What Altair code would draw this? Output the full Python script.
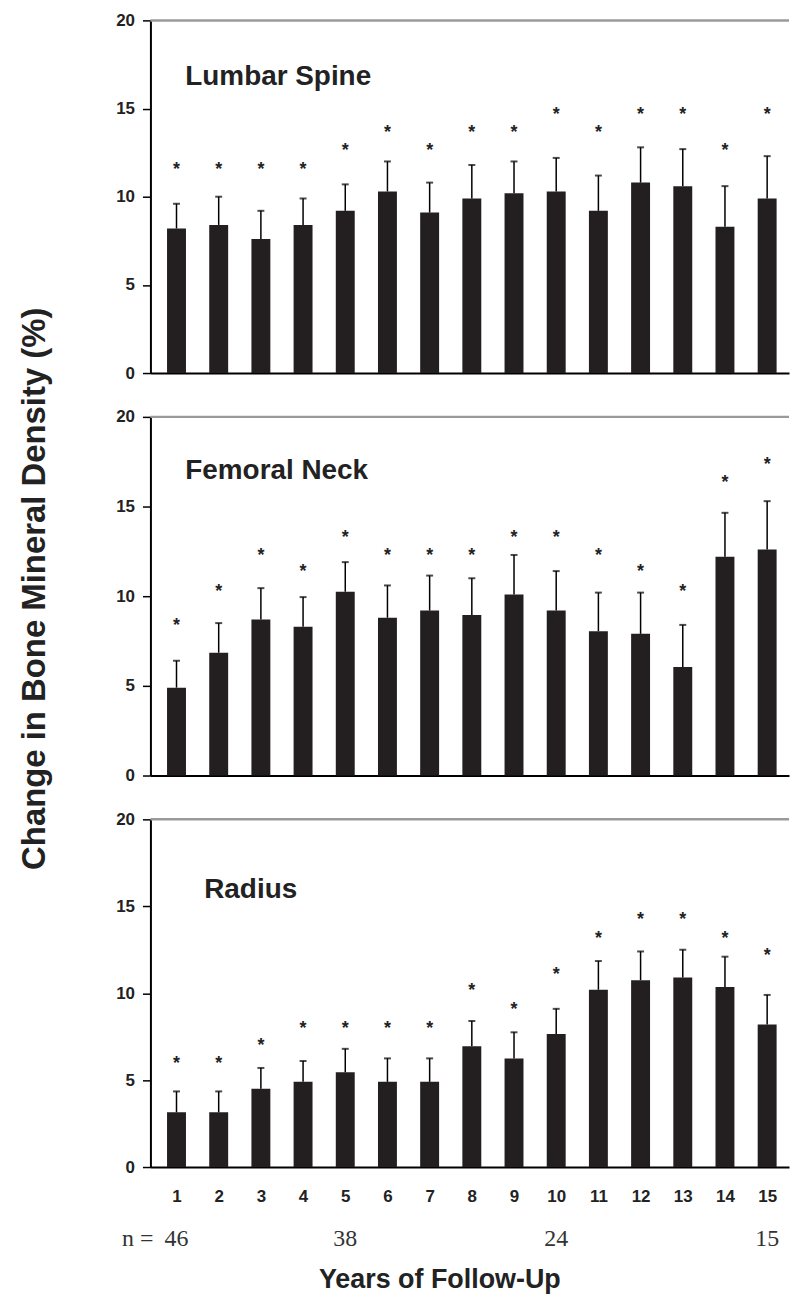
import altair as alt
import pandas as pd

years = list(range(1, 16))

lumbar_mean = [8.2, 8.4, 7.6, 8.4, 9.2, 10.3, 9.1, 9.9, 10.2, 10.3, 9.2, 10.8, 10.6, 8.3, 9.9]
lumbar_upper = [9.6, 10.0, 9.2, 9.9, 10.7, 12.0, 10.8, 11.8, 12.0, 12.2, 11.2, 12.8, 12.7, 10.6, 12.3]
lumbar_star = [11.8, 11.8, 11.8, 11.8, 12.9, 13.9, 12.9, 13.9, 13.9, 14.9, 13.9, 14.9, 14.9, 12.9, 14.9]

femoral_mean = [4.9, 6.85, 8.7, 8.3, 10.25, 8.8, 9.2, 8.95, 10.1, 9.2, 8.05, 7.9, 6.05, 12.2, 12.6]
femoral_upper = [6.4, 8.5, 10.45, 9.95, 11.9, 10.6, 11.15, 11.0, 12.3, 11.4, 10.2, 10.2, 8.4, 14.65, 15.3]
femoral_star = [8.6, 10.5, 12.5, 11.6, 13.55, 12.5, 12.5, 12.5, 13.55, 13.55, 12.5, 11.6, 10.5, 16.6, 17.6]

radius_mean = [3.15, 3.15, 4.5, 4.9, 5.45, 4.9, 4.9, 6.95, 6.25, 7.65, 10.2, 10.75, 10.9, 10.35, 8.2]
radius_upper = [4.35, 4.35, 5.7, 6.1, 6.8, 6.25, 6.25, 8.4, 7.75, 9.1, 11.85, 12.4, 12.5, 12.1, 9.9]
radius_star = [6.2, 6.2, 7.25, 8.2, 8.2, 8.2, 8.2, 10.4, 9.3, 11.35, 13.4, 14.5, 14.5, 13.4, 12.45]

n_years = [1, 5, 10, 15]
n_values = ["46", "38", "24", "15"]
y_ticks = [0, 5, 10, 15, 20]

panel_names = ["Lumbar Spine", "Femoral Neck", "Radius"]
y_title = "Change in Bone Mineral Density (%)"
x_title = "Years of Follow-Up"

W = 641
FONT = "Liberation Sans, Arial, Helvetica, sans-serif"
SERIF = "Liberation Serif, Times New Roman, serif"
INK = "#222222"


def xs():
    return alt.Scale(domain=[0.5, 15.4], nice=False, zero=False)


def ys():
    return alt.Scale(domain=[0, 20], nice=False)


def panel(name, mean, upper, star, height, label_x, label_y, middle=False, bottom=False):
    df = pd.DataFrame({"year": years, "mean": mean, "upper": upper, "star": star})

    if bottom:
        xaxis = alt.Axis(values=years, format="d", ticks=False, labelFont=FONT,
                         labelFontSize=17, labelFontWeight="bold", labelColor=INK,
                         labelPadding=22, labelFlush=False, domainColor="black",
                         domainWidth=2, grid=False, title=x_title, titleFont=FONT,
                         titleFontSize=27, titleFontWeight="bold", titleColor=INK,
                         titleX=290, titleY=121, titleBaseline="alphabetic",
                         titleAlign="center")
    else:
        xaxis = alt.Axis(labels=False, ticks=False, domainColor="black",
                         domainWidth=2, grid=False, title=None)

    ykw = dict(values=y_ticks, labelFont=FONT, labelFontSize=17, labelFontWeight="bold",
               labelColor=INK, labelPadding=8, tickSize=8, tickColor="black",
               tickWidth=1.5, domainColor="black", domainWidth=2, grid=False,
               labelFlush=False)
    if middle:
        yaxis = alt.Axis(title=y_title, titleFont=FONT, titleFontSize=33,
                         titleFontWeight="bold", titleColor=INK, titleAngle=270,
                         titleX=-106, titleY=172, titleBaseline="alphabetic",
                         titleAlign="center", **ykw)
    else:
        yaxis = alt.Axis(title=None, **ykw)

    base = alt.Chart(df)
    bars = base.mark_bar(size=19, color="#231f20").encode(
        x=alt.X("year:Q", scale=xs(), axis=xaxis),
        y=alt.Y("mean:Q", scale=ys(), axis=yaxis),
    )
    err = base.mark_rule(color="black", strokeWidth=1.5).encode(
        x=alt.X("year:Q", scale=xs()),
        y=alt.Y("mean:Q", scale=ys()),
        y2="upper:Q",
    )
    cap = base.mark_tick(color="black", orient="horizontal", size=7, thickness=2).encode(
        x=alt.X("year:Q", scale=xs()),
        y=alt.Y("upper:Q", scale=ys()),
    )
    stars = base.mark_text(text="*", font=FONT, fontSize=18, fontWeight="bold",
                           color=INK, baseline="middle", dy=5).encode(
        x=alt.X("year:Q", scale=xs()),
        y=alt.Y("star:Q", scale=ys()),
    )
    top_rule = alt.Chart(pd.DataFrame({"v": [20]})).mark_rule(
        color="#9a9a9a", strokeWidth=2.5).encode(
        y=alt.Y("v:Q", scale=ys()), x=alt.value(0), x2=alt.value(W))
    label = alt.Chart(pd.DataFrame({"t": [name]})).mark_text(
        align="left", baseline="alphabetic", font=FONT, fontSize=28,
        fontWeight="bold", color=INK).encode(
        text="t:N", x=alt.value(label_x), y=alt.value(label_y))

    layers = [top_rule, bars, err, cap, stars, label]
    if bottom:
        ndf = pd.DataFrame({"year": n_years, "n": n_values})
        nrow = alt.Chart(ndf).mark_text(font=SERIF, fontSize=24, color="#333333",
                                        baseline="middle").encode(
            x=alt.X("year:Q", scale=xs()), y=alt.value(height + 72), text="n:N")
        nlab = alt.Chart(pd.DataFrame({"t": ["n ="]})).mark_text(
            font=SERIF, fontSize=24, color="#333333", baseline="middle",
            align="right").encode(text="t:N", x=alt.value(3), y=alt.value(height + 72))
        layers += [nrow, nlab]

    return alt.layer(*layers).properties(width=W, height=height)


top = panel(panel_names[0], lumbar_mean, lumbar_upper, lumbar_star, 354, 35, 65)
mid = panel(panel_names[1], femoral_mean, femoral_upper, femoral_star, 360, 35, 62, middle=True)
bot = panel(panel_names[2], radius_mean, radius_upper, radius_star, 349, 54, 79, bottom=True)

chart = alt.vconcat(top, mid, bot, spacing=44, bounds="flush").properties(
    padding={"top": 8, "left": 18, "right": 0, "bottom": 0},
    background="white",
).configure_view(stroke="transparent")

chart.save("out.html", embed_options={"renderer": "svg", "actions": False})
